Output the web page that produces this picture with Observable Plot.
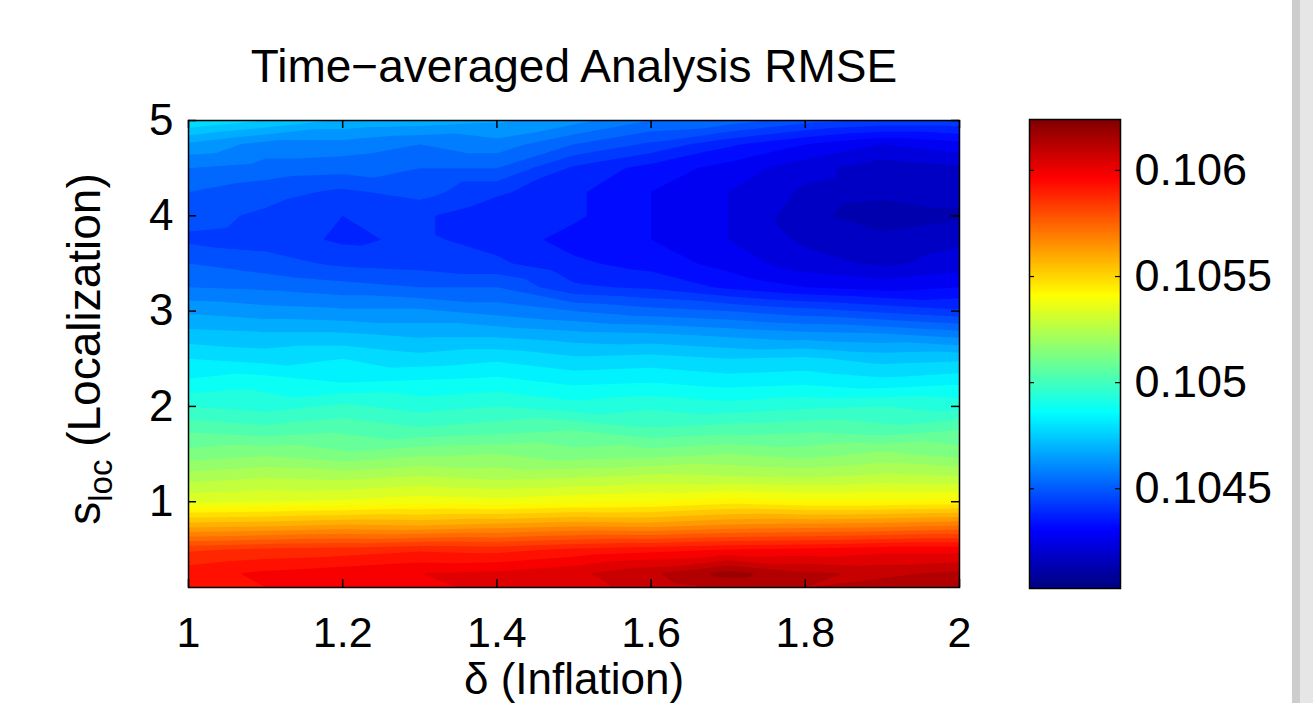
<!DOCTYPE html>
<html>
<head>
<meta charset="utf-8">
<script src="https://cdn.jsdelivr.net/npm/d3@7"></script>
<script src="https://cdn.jsdelivr.net/npm/@observablehq/plot@0.6"></script>
<style>
  html, body { margin: 0; padding: 0; background: #fff; }
  #wrap { position: relative; width: 1313px; height: 703px; overflow: hidden; background: #fff; }
  #main { position: absolute; left: 0; top: 0; }
  #cbar { position: absolute; left: 1000px; top: 0; }
  .strip1 { position: absolute; left: 1292px; top: 0; width: 8px; height: 703px; background: #cdcdcd; }
  .strip2 { position: absolute; left: 1300px; top: 0; width: 13px; height: 703px; background: #e6e6e6; }
</style>
</head>
<body>
<div id="wrap">
  <div id="main"></div>
  <div id="cbar"></div>
  <div class="strip1"></div>
  <div class="strip2"></div>
</div>
<script>
const titleText = "Time\u2212averaged Analysis RMSE";
const xLabelText = "\u03b4 (Inflation)";
const xTicks = [1, 1.2, 1.4, 1.6, 1.8, 2];
const yTicks = [1, 2, 3, 4, 5];
const cbTicks = [0.1045, 0.105, 0.1055, 0.106];
const colorDomain = [0.10403, 0.10624];

// inflation (delta) columns
const deltaValues = [1, 1.1, 1.2, 1.3, 1.4, 1.5, 1.6, 1.7, 1.8, 1.9, 2];
// localization (s_loc) rows
const slocValues = [0.1, 0.25, 0.5, 0.75, 1.0, 1.25, 1.5, 1.75, 2.0, 2.25, 2.5, 2.75, 3.0, 3.25, 3.5, 3.75, 4.0, 4.25, 4.5, 4.75, 5.0];
// RMSE, one row per s_loc value, one column per delta value
const rmseRows = [
  [0.10593, 0.10598, 0.10600, 0.10602, 0.10604, 0.10606, 0.10610, 0.10614, 0.10613, 0.10615, 0.10617],
  [0.10596, 0.10599, 0.10601, 0.10603, 0.10604, 0.10607, 0.10612, 0.10620, 0.10614, 0.10612, 0.10614],
  [0.10587, 0.10589, 0.10590, 0.10592, 0.10591, 0.10594, 0.10596, 0.10598, 0.10599, 0.10601, 0.10601],
  [0.10561, 0.10562, 0.10564, 0.10563, 0.10565, 0.10567, 0.10566, 0.10569, 0.10570, 0.10571, 0.10573],
  [0.10537, 0.10538, 0.10539, 0.10541, 0.10540, 0.10542, 0.10543, 0.10546, 0.10544, 0.10544, 0.10545],
  [0.10526, 0.10528, 0.10527, 0.10529, 0.10527, 0.10528, 0.10530, 0.10529, 0.10528, 0.10530, 0.10529],
  [0.10515, 0.10517, 0.10514, 0.10517, 0.10518, 0.10515, 0.10516, 0.10518, 0.10516, 0.10519, 0.10516],
  [0.10507, 0.10505, 0.10507, 0.10504, 0.10506, 0.10508, 0.10504, 0.10506, 0.10507, 0.10505, 0.10508],
  [0.10498, 0.10496, 0.10499, 0.10496, 0.10498, 0.10495, 0.10497, 0.10495, 0.10497, 0.10498, 0.10496],
  [0.10489, 0.10491, 0.10488, 0.10489, 0.10490, 0.10487, 0.10488, 0.10486, 0.10487, 0.10485, 0.10487],
  [0.10483, 0.10481, 0.10483, 0.10480, 0.10482, 0.10479, 0.10480, 0.10478, 0.10479, 0.10476, 0.10477],
  [0.10475, 0.10474, 0.10474, 0.10472, 0.10472, 0.10470, 0.10469, 0.10467, 0.10465, 0.10464, 0.10461],
  [0.10467, 0.10465, 0.10464, 0.10464, 0.10461, 0.10458, 0.10455, 0.10453, 0.10450, 0.10447, 0.10444],
  [0.10458, 0.10457, 0.10455, 0.10453, 0.10453, 0.10444, 0.10442, 0.10437, 0.10433, 0.10431, 0.10433],
  [0.10453, 0.10450, 0.10447, 0.10446, 0.10444, 0.10439, 0.10436, 0.10431, 0.10425, 0.10422, 0.10425],
  [0.10447, 0.10446, 0.10442, 0.10444, 0.10441, 0.10436, 0.10433, 0.10428, 0.10422, 0.10420, 0.10422],
  [0.10450, 0.10447, 0.10443, 0.10444, 0.10439, 0.10439, 0.10433, 0.10428, 0.10420, 0.10414, 0.10417],
  [0.10453, 0.10450, 0.10447, 0.10450, 0.10444, 0.10439, 0.10433, 0.10428, 0.10422, 0.10420, 0.10420],
  [0.10458, 0.10456, 0.10455, 0.10453, 0.10453, 0.10442, 0.10436, 0.10431, 0.10425, 0.10420, 0.10422],
  [0.10467, 0.10461, 0.10461, 0.10458, 0.10461, 0.10453, 0.10447, 0.10439, 0.10433, 0.10428, 0.10431],
  [0.10483, 0.10478, 0.10472, 0.10471, 0.10469, 0.10465, 0.10458, 0.10456, 0.10450, 0.10447, 0.10447]
];

const samples = [];
slocValues.forEach((s, i) => deltaValues.forEach((d, j) => samples.push({delta: d, sloc: s, rmse: rmseRows[i][j]})));

function jet(t) {
  t = Math.max(0, Math.min(1, t));
  const c = v => Math.round(255 * Math.max(0, Math.min(1, v)));
  const r = c(1.5 - Math.abs(4 * t - 3));
  const g = c(1.5 - Math.abs(4 * t - 2));
  const b = c(1.5 - Math.abs(4 * t - 1));
  return `rgb(${r},${g},${b})`;
}

const thresholds = d3.range(colorDomain[0], colorDomain[1], 0.00005);
const colorScale = {type: "linear", domain: colorDomain, interpolate: jet};
const font = "'Liberation Sans', Arial, Helvetica, sans-serif";

const W = 1000, H = 703, ML = 188, MR = 41, MT = 120, MB = 116;
const frameW = W - ML - MR, frameH = H - MT - MB;

const main = Plot.plot({
  width: W, height: H,
  marginLeft: ML, marginRight: MR, marginTop: MT, marginBottom: MB,
  style: {fontFamily: font, fontSize: "45px", color: "black", background: "transparent", overflow: "visible"},
  x: {domain: [1, 2], label: null},
  y: {domain: [0.1, 5], label: null},
  color: colorScale,
  marks: [
    Plot.contour(samples, {x: "delta", y: "sloc", fill: "rmse", interpolate: "barycentric", thresholds, pixelSize: 1, x1: 1, x2: 2, y1: 0.1, y2: 5}),
    Plot.tickX(xTicks, {x: d => d, insetTop: frameH - 8, stroke: "black", strokeWidth: 1.5}),
    Plot.tickX(xTicks, {x: d => d, insetBottom: frameH - 8, stroke: "black", strokeWidth: 1.5}),
    Plot.tickY(yTicks, {y: d => d, insetRight: frameW - 8, stroke: "black", strokeWidth: 1.5}),
    Plot.tickY(yTicks, {y: d => d, insetLeft: frameW - 8, stroke: "black", strokeWidth: 1.5}),
    Plot.frame({stroke: "black", strokeWidth: 1.5}),
    Plot.axisX(xTicks, {tickSize: 0, tickPadding: 29, tickFormat: d => String(d), fontSize: 43}),
    Plot.axisY(yTicks, {tickSize: 0, tickPadding: 15, tickFormat: d => String(d), fontSize: 44}),
    Plot.text([titleText], {text: d => d, frameAnchor: "top", lineAnchor: "middle", dy: -53, fontSize: 46}),
    Plot.text([xLabelText], {text: d => d, frameAnchor: "bottom", lineAnchor: "middle", dy: 92, fontSize: 44})
  ]
});

// y label with subscript
const svgSel = d3.select(main);
const yl = svgSel.append("text")
  .attr("transform", "translate(100,349) rotate(-90)")
  .attr("text-anchor", "middle")
  .attr("font-family", font)
  .attr("font-size", 46)
  .attr("fill", "black");
yl.append("tspan").text("s");
yl.append("tspan").attr("font-size", 33).attr("dy", 12).text("loc");
yl.append("tspan").attr("dy", -12).text(" (Localization)");

document.getElementById("main").appendChild(main);

const CW = 313, CML = 29, CMR = 193, CMT = 119, CMB = 115;
const cbarW = CW - CML - CMR;
const cbar = Plot.plot({
  width: CW, height: H,
  marginLeft: CML, marginRight: CMR, marginTop: CMT, marginBottom: CMB,
  style: {fontFamily: font, fontSize: "45px", color: "black", background: "transparent", overflow: "visible"},
  x: {domain: [0, 1], axis: null},
  y: {domain: colorDomain, label: null, axis: null},
  color: colorScale,
  marks: [
    Plot.raster({x1: 0, x2: 1, y1: colorDomain[0], y2: colorDomain[1], fill: (x, y) => y, pixelSize: 1}),
    Plot.tickY(cbTicks, {y: d => d, insetRight: cbarW - 5, stroke: "black", strokeWidth: 1.2}),
    Plot.tickY(cbTicks, {y: d => d, insetLeft: cbarW - 5, stroke: "black", strokeWidth: 1.2}),
    Plot.frame({stroke: "black", strokeWidth: 1.5}),
    Plot.axisY(cbTicks, {anchor: "right", tickSize: 0, tickPadding: 14, tickFormat: d => String(d), fontSize: 45})
  ]
});
document.getElementById("cbar").appendChild(cbar);
</script>
</body>
</html>
